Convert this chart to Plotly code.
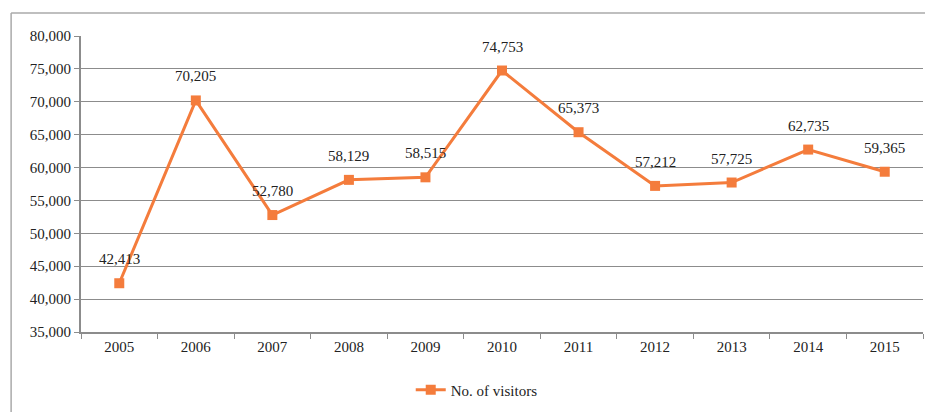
import plotly.graph_objects as go

years = ["2005", "2006", "2007", "2008", "2009", "2010", "2011", "2012", "2013", "2014", "2015"]
visitors = [42413, 70205, 52780, 58129, 58515, 74753, 65373, 57212, 57725, 62735, 59365]
labels = [f"{v:,}" for v in visitors]

ORANGE = "#F47C3C"
GRID = "#8c8c8c"
FONT = "Liberation Serif"
SIZE = 15

fig = go.Figure()
fig.add_trace(go.Scatter(
    x=years, y=visitors,
    mode="lines+markers",
    name="No. of visitors",
    line=dict(color=ORANGE, width=3),
    marker=dict(symbol="square", size=10, color=ORANGE),
))

# data labels a little above each point (x = category index)
for i, (v, lab) in enumerate(zip(visitors, labels)):
    fig.add_annotation(x=i, y=v, text=lab, showarrow=False, yshift=24,
                       font=dict(family=FONT, size=SIZE, color="#222"))

# outer chart frame (left/top edge)
fig.add_shape(type="line", xref="paper", yref="paper",
              x0=-0.083, x1=1.02, y0=1.078, y1=1.078,
              line=dict(color="#aaaaaa", width=1.5))
fig.add_shape(type="line", xref="paper", yref="paper",
              x0=-0.083, x1=-0.083, y0=1.078, y1=-0.3,
              line=dict(color="#aaaaaa", width=1.5))

# page body adds an 8px margin, so the figure is 8px smaller than the window
fig.update_layout(
    width=925, height=404,
    margin=dict(l=73, r=10, t=28, b=80, autoexpand=False),
    paper_bgcolor="white", plot_bgcolor="white",
    font=dict(family=FONT, size=SIZE, color="#222"),
    showlegend=True,
    legend=dict(orientation="h", x=0.47, xanchor="center", y=-0.196, yanchor="middle",
                font=dict(family=FONT, size=SIZE)),
)
fig.update_xaxes(
    type="category", tickson="boundaries", automargin=False,
    range=[-0.5, len(years) - 0.5],
    showline=True, linecolor=GRID, linewidth=2,
    ticks="outside", ticklen=5, tickcolor=GRID,
    showgrid=False, tickfont=dict(size=SIZE),
)
fig.update_yaxes(
    range=[35000, 80000], dtick=5000, tickformat=",", automargin=False,
    showline=True, linecolor=GRID, linewidth=2,
    ticks="outside", ticklen=5, tickcolor=GRID,
    showgrid=True, gridcolor=GRID, gridwidth=1,
    zeroline=False, tickfont=dict(size=SIZE),
)

fig.write_html("out.html")
